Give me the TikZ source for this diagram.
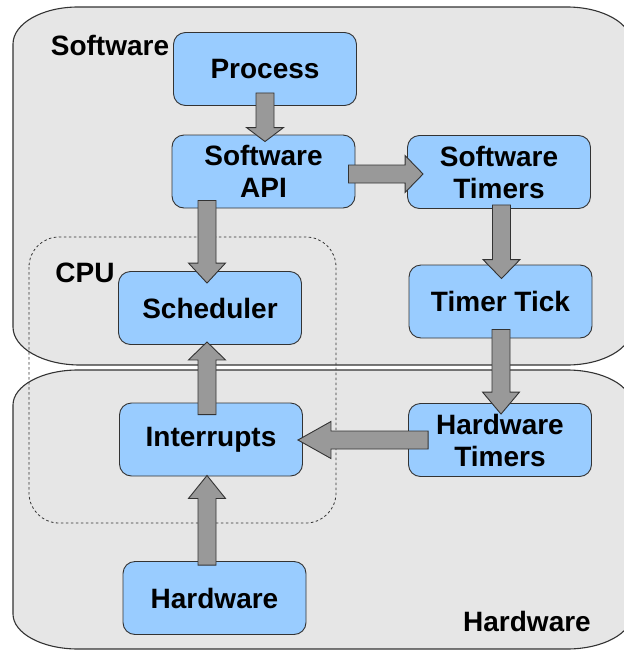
\documentclass[tikz,border=0pt]{standalone}
\usepackage{fontspec}
\setmainfont{Liberation Sans}
\usetikzlibrary{calc}
\definecolor{regionfill}{HTML}{E6E6E6}
\definecolor{boxfill}{HTML}{99CCFF}
\definecolor{arrowfill}{HTML}{999999}
\definecolor{edge}{HTML}{333333}
% block arrow from start coordinate #1 to tip #2, head length #3 (pt)
\newcommand\blockarrow[3]{%
  \coordinate (ab) at ($(#2)!#3pt!(#1)$);
  \draw[barrow] ($(#1)!9pt!90:(#2)$) -- ($(ab)!9pt!90:(#2)$)
    -- ($(ab)!18.5pt!90:(#2)$) -- (#2) -- ($(ab)!18.5pt!-90:(#2)$)
    -- ($(ab)!9pt!-90:(#2)$) -- ($(#1)!9pt!-90:(#2)$) -- cycle;}
\begin{document}
\begin{tikzpicture}[x=1pt,y=-1pt,
  region/.style={draw=edge, fill=regionfill, line width=1.1pt},
  cpubox/.style={draw=edge, dash pattern=on 2.5pt off 2.5pt, line width=0.8pt, rounded corners=30pt},
  blk/.style={draw=edge, fill=boxfill, line width=0.9pt, rounded corners=12pt,
    minimum width=183pt, minimum height=73pt, inner sep=0pt, align=center,
    font=\fontsize{28}{32}\selectfont\bfseries},
  lbl/.style={font=\fontsize{28}{32}\selectfont\bfseries, inner sep=0pt},
  barrow/.style={draw=edge, fill=arrowfill, line width=0.9pt, line join=miter}]
\useasboundingbox (0,0) rectangle (624,651);

% software and hardware regions
\draw[region] (13,44) arc[start angle=180, end angle=270, x radius=65, y radius=37]
  -- (567,7) arc[start angle=270, end angle=360, x radius=65, y radius=37]
  -- (632,328) arc[start angle=0, end angle=90, x radius=65, y radius=37]
  -- (80,365) arc[start angle=90, end angle=180, x radius=67, y radius=38] -- cycle;
\draw[region] (13,405) arc[start angle=180, end angle=270, x radius=65, y radius=35]
  -- (567,370) arc[start angle=270, end angle=360, x radius=65, y radius=35]
  -- (632,614) arc[start angle=0, end angle=90, x radius=65, y radius=35]
  -- (78,649) arc[start angle=90, end angle=180, x radius=65, y radius=35] -- cycle;

% CPU boundary
\draw[cpubox] (29,237) rectangle (336,523);

\node[lbl] (swlabel) at (110,45) {Software};
\node[lbl] (cpulabel) at (85,273) {CPU};
\node[lbl] (hwlabel) at (527,621) {Hardware};

% blocks
\node[blk] (proc)  at (265,69)    {Process};
\node[blk] (api)   at (263.5,171.5) {Software\\API};
\node[blk] (swt)   at (499,172)   {Software\\Timers};
\node[blk] (tick)  at (500.5,301.5) {Timer Tick};
\node[blk] (sched) at (210,308)   {Scheduler};
\node[blk] (intr)  at (211,439.5) {Interrupts};
\node[blk] (hwt)   at (500,440)   {Hardware\\Timers};
\node[blk] (hw)    at (214.5,598) {Hardware};

% connectors
\path (proc.south) ++(0,-13) coordinate (a1s);
\path (a1s |- api.north) ++(0,7) coordinate (a1t);
\blockarrow{a1s}{a1t}{14}

\path (api.east) ++(-7,2.5) coordinate (a2s);
\path (a2s -| swt.west) ++(16,0) coordinate (a2t);
\blockarrow{a2s}{a2t}{18}

\path (sched.north) ++(-3,12) coordinate (a3t);
\path (a3t |- api.south) ++(0,-8) coordinate (a3s);
\blockarrow{a3s}{a3t}{20}

\path (swt.south) ++(2.5,-4) coordinate (a4s);
\path (a4s |- tick.north) ++(0,14) coordinate (a4t);
\blockarrow{a4s}{a4t}{19}

\path (tick.south) ++(0.5,-9) coordinate (a5s);
\path (a5s |- hwt.north) ++(0,11) coordinate (a5t);
\blockarrow{a5s}{a5t}{22}

\path (hwt.west) ++(20,0) coordinate (a6s);
\path (a6s -| intr.east) ++(-5,0) coordinate (a6t);
\blockarrow{a6s}{a6t}{33}

\path (intr.north) ++(-4,12) coordinate (a7s);
\path (a7s |- sched.south) ++(0,-3) coordinate (a7t);
\blockarrow{a7s}{a7t}{18}

\path (hw.north) ++(-7.5,4) coordinate (a8s);
\path (a8s |- intr.south) ++(0,-1) coordinate (a8t);
\blockarrow{a8s}{a8t}{23}
\end{tikzpicture}
\end{document}
